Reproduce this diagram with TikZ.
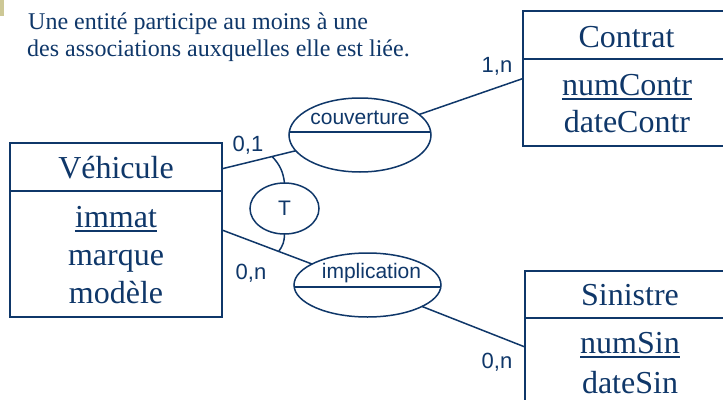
\documentclass[tikz,border=0pt]{standalone}
\usepackage{fontspec}
\setmainfont{Liberation Serif}
\newfontfamily\lsans{Liberation Sans}
\usetikzlibrary{shapes.geometric}
\definecolor{navy}{RGB}{15,55,105}
\definecolor{khaki}{RGB}{205,200,150}
\tikzset{
  entity/.style={draw=navy, line width=1.5pt, rectangle, inner sep=0pt, outer sep=0pt},
  assoc/.style={draw=navy, line width=1.5pt, ellipse, inner sep=0pt, outer sep=0pt},
  link/.style={draw=navy, line width=1.5pt},
  divider/.style={draw=navy, line width=2.5pt},
  ul/.style={draw=navy, line width=2pt},
  ser/.style={text=navy, inner sep=0pt, font=\fontsize{32}{38}\selectfont},
  lab/.style={text=navy, inner sep=0pt, font=\lsans\fontsize{22}{26}\selectfont},
  alab/.style={text=navy, inner sep=0pt, font=\lsans\fontsize{21}{25}\selectfont},
  note/.style={text=navy, inner sep=0pt, anchor=base west, font=\fontsize{24}{27}\selectfont}
}
\begin{document}
\begin{tikzpicture}[x=1pt, y=-1pt]
\clip (0,0) rectangle (723,399);
\fill[white] (0,0) rectangle (723,399);
\fill[khaki] (0,0) rectangle (4,16);

% note
\node[note] (t1) at (28,29) {Une entité participe au moins à une};
\node[note] (t2) at (27,56) {des associations auxquelles elle est liée.};

% entities
\node[entity, minimum width=212, minimum height=174] (veh) at (116,230) {};
\node[entity, minimum width=207, minimum height=135] (con) at (626.5,78.5) {};
\node[entity, minimum width=210, minimum height=152] (sin) at (630,347) {};
\draw[divider] ([yshift=-48pt]veh.north west) -- ([yshift=-48pt]veh.north east);
\draw[divider] ([yshift=-48pt]con.north west) -- ([yshift=-48pt]con.north east);
\draw[divider] ([yshift=-47pt]sin.north west) -- ([yshift=-47pt]sin.north east);

\node[ser, anchor=base] (vname) at (116,178) {Véhicule};
\node[ser, anchor=base] (va1) at (116,227) {immat};
\node[ser, anchor=base] (va2) at (116,265) {marque};
\node[ser, anchor=base] (va3) at (116,303) {modèle};
\draw[ul] ([yshift=-4pt]va1.base west) -- ([yshift=-4pt]va1.base east);

\node[ser, anchor=base] (cname) at (626.5,47) {Contrat};
\node[ser, anchor=base] (ca1) at (627,95) {numContr};
\node[ser, anchor=base] (ca2) at (627,132) {dateContr};
\draw[ul] ([yshift=-4pt]ca1.base west) -- ([yshift=-4pt]ca1.base east);

\node[ser, anchor=base] (sname) at (630,305) {Sinistre};
\node[ser, anchor=base] (sa1) at (630,353) {numSin};
\node[ser, anchor=base] (sa2) at (630,393) {dateSin};
\draw[ul] ([yshift=-4pt]sa1.base west) -- ([yshift=-4pt]sa1.base east);

% associations
\node[assoc, minimum width=142, minimum height=74] (cov) at (360,135) {};
\node[assoc, minimum width=147, minimum height=64] (imp) at (367.5,285) {};
\node[assoc, alab, minimum width=69, minimum height=51] (tot) at (284.5,208.5) {T};
\draw[link] ([yshift=3pt]cov.west) -- ([yshift=3pt]cov.east);
\draw[link] ([yshift=-2pt]imp.west) -- ([yshift=-2pt]imp.east);
\node[alab, anchor=base] (covt) at (360,124) {couverture};
\node[alab, anchor=base] (impt) at (371.5,278) {implication};

% connectors
\draw[link] (veh.30) -- coordinate[pos=0.68] (p1) (cov);
\draw[link] (veh.east) -- coordinate[pos=0.63] (p2) (imp);
\draw[link] (cov) -- (con.west);
\draw[link] (imp) -- (sin.west);
\draw[link] (p1) to[bend left=18] (tot.north);
\draw[link] (tot.south) to[bend left=18] (p2);

% cardinalities
\node[lab, anchor=base] (c1) at (248,151) {0,1};
\node[lab, anchor=base] (c2) at (251,279) {0,n};
\node[lab, anchor=base] (c3) at (497,72) {1,n};
\node[lab, anchor=base] (c4) at (497,368) {0,n};
\end{tikzpicture}
\end{document}
